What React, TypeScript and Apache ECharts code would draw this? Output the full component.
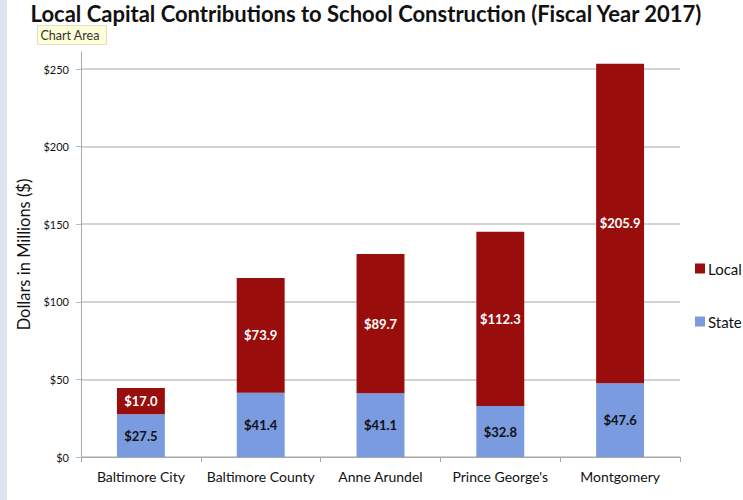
import React, { useEffect, useRef } from "react";
import * as echarts from "echarts";

const categories = ["Baltimore City", "Baltimore County", "Anne Arundel", "Prince George's", "Montgomery"];
const stateValues = [27.5, 41.4, 41.1, 32.8, 47.6];
const localValues = [17.0, 73.9, 89.7, 112.3, 205.9];
const yTicks = [0, 50, 100, 150, 200, 250];

const FONT = "Lato";

export default function App() {
  const ref = useRef<HTMLDivElement>(null);
  useEffect(() => {
    if (!ref.current) return;
    const chart = echarts.init(ref.current, undefined, { renderer: "svg" });
    chart.setOption({
      animation: false,
      backgroundColor: "#ffffff",
      textStyle: { fontFamily: FONT },
      title: {
        text: "Local Capital Contributions to School Construction (Fiscal Year 2017)",
        left: 366,
        top: 2,
        padding: 0,
        textAlign: "center",
        textStyle: { fontFamily: FONT, fontSize: 22, fontWeight: "bold", color: "#111", lineHeight: 22 },
      },
      legend: {
        orient: "vertical",
        left: 690,
        top: 256,
        itemWidth: 10,
        itemHeight: 10,
        itemGap: 38,
        icon: "rect",
        data: ["Local", "State"],
        textStyle: { fontFamily: FONT, fontSize: 15, color: "#111", padding: [0, 0, 0, -2] },
      },
      grid: { left: 81, right: 63, top: 52, bottom: 43, containLabel: false },
      xAxis: {
        type: "category",
        data: categories,
        axisLine: { lineStyle: { color: "#a8a8a8", width: 1 } },
        axisTick: { show: true, length: 5, lineStyle: { color: "#a8a8a8" } },
        axisLabel: { fontFamily: FONT, fontSize: 14, color: "#111", margin: 12, interval: 0 },
      },
      yAxis: {
        type: "value",
        min: 0,
        max: 261,
        interval: 50,
        name: "Dollars in Millions ($)",
        nameLocation: "middle",
        nameGap: 41,
        nameTextStyle: { fontFamily: FONT, fontSize: 16.5, color: "#111" },
        axisLine: { show: true, lineStyle: { color: "#a8a8a8", width: 1 } },
        axisTick: { show: true, length: 5, lineStyle: { color: "#bbbbbb" }, customValues: yTicks },
        splitLine: { lineStyle: { color: "#c4c4c4", width: 1.5 } },
        axisLabel: {
          fontFamily: FONT,
          fontSize: 11,
          color: "#111",
          margin: 12,
          customValues: yTicks,
          formatter: (v: number) => (yTicks.includes(v) ? "$" + v : ""),
        },
      },
      series: [
        {
          name: "State",
          type: "bar",
          stack: "total",
          barWidth: "40%",
          data: stateValues,
          itemStyle: { color: "#7b9be0" },
          label: {
            show: true,
            position: "inside",
            formatter: (p: any) => "$" + Number(p.value).toFixed(1),
            fontFamily: FONT,
            fontSize: 13,
            fontWeight: "bold",
            color: "#111",
          },
        },
        {
          name: "Local",
          type: "bar",
          stack: "total",
          barWidth: "40%",
          data: localValues,
          itemStyle: { color: "#990d0d" },
          label: {
            show: true,
            position: "inside",
            formatter: (p: any) => "$" + Number(p.value).toFixed(1),
            fontFamily: FONT,
            fontSize: 13,
            fontWeight: "bold",
            color: "#ffffff",
          },
        },
      ],
      graphic: [
        { type: "rect", left: 0, top: 0, shape: { width: 7, height: 500 }, style: { fill: "#dfe4f3" }, silent: true },
        {
          type: "group",
          left: 37,
          top: 25,
          z: 100,
          children: [
            { type: "rect", shape: { x: 0, y: 0, width: 69, height: 19 }, style: { fill: "#ffffd9", stroke: "#e0e0c8", lineWidth: 1 } },
            { type: "text", x: 3, y: 3, style: { text: "Chart Area", fontFamily: FONT, fontSize: 12.5, fill: "#333" } },
          ],
        },
      ],
    });
    return () => chart.dispose();
  }, []);
  return <div ref={ref} style={{ position: "fixed", left: 0, top: 0, width: 743, height: 500 }} />;
}
